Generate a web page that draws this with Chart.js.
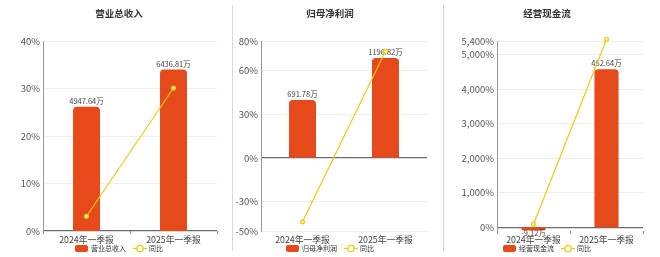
<!DOCTYPE html>
<html>
<head>
<meta charset="utf-8">
<script src="https://cdn.jsdelivr.net/npm/chart.js@4/dist/chart.umd.min.js"></script>
<style>
  html, body { margin: 0; padding: 0; background: #fff; }
  #wrap { position: relative; width: 660px; height: 257px; overflow: hidden; }
  #wrap canvas { position: absolute; top: 0; }
  .sep { position: absolute; top: 5px; width: 1px; height: 246px; background: #d9d9d9; z-index: 2; }
</style>
</head>
<body>
<div id="wrap">
  <canvas id="c1" width="232" height="257" style="left:0px;width:232px;height:257px"></canvas>
  <canvas id="c2" width="210" height="257" style="left:233px;width:210px;height:257px"></canvas>
  <canvas id="c3" width="216" height="257" style="left:444px;width:216px;height:257px"></canvas>
  <div class="sep" style="left:232px"></div>
  <div class="sep" style="left:443px"></div>
</div>
<script>
// Reporting periods
const categories = ['2024年一季报', '2025年一季报'];

// 营业总收入 (万元) and year-on-year change (%)
const revenueValues = [4947.64, 6436.81];
const revenueYoY = [3.1, 30.1];
const revenueTicks = [0, 10, 20, 30, 40];

// 归母净利润 (万元) and year-on-year change (%)
const profitValues = [691.78, 1196.82];
const profitYoY = [-43.7, 73.0];
const profitTicks = [-50, -30, 0, 30, 60, 80];

// 经营现金流 (万元) and year-on-year change (%)
const cashValues = [-9.12, 462.64];
const cashYoY = [90, 5450];
const cashTicks = [0, 1000, 2000, 3000, 4000, 5000, 5400];

const BAR_COLOR = '#e64a1b';
const LINE_COLOR = '#f1c912';
const FONT = "'Noto Sans CJK SC', 'Noto Sans', sans-serif";

// Value labels above (or below, for negatives) each bar
const barLabels = {
  id: 'barLabels',
  afterDatasetDraw(chart, args) {
    if (args.meta.type !== 'bar') return;
    const ctx = chart.ctx;
    const ds = chart.data.datasets[args.index];
    ctx.save();
    ctx.font = '7.5px ' + FONT;
    ctx.fillStyle = '#444';
    ctx.textAlign = 'center';
    args.meta.data.forEach((bar, i) => {
      const v = ds.data[i];
      const txt = v + '万';
      if (v >= 0) {
        ctx.textBaseline = 'bottom';
        ctx.fillText(txt, bar.x, bar.y - 2);
      } else {
        ctx.textBaseline = 'top';
        ctx.fillText(txt, bar.x, bar.y - 1.5);
      }
    });
    ctx.restore();
  }
};

// Title and legend, centred on the panel
const panelDecor = {
  id: 'panelDecor',
  afterDraw(chart) {
    const o = chart.options.plugins.panelDecor;
    const ctx = chart.ctx;
    ctx.save();
    ctx.fillStyle = '#333';
    ctx.font = 'bold 9.5px ' + FONT;
    ctx.textAlign = 'center';
    ctx.textBaseline = 'middle';
    ctx.fillText(o.title, o.center, 13.5);

    // legend
    ctx.font = '7px ' + FONT;
    const name = chart.data.datasets[0].label;
    const yoy = chart.data.datasets[1].label;
    const rectW = 13, lineW = 14;
    const w = rectW + 3 + ctx.measureText(name).width + 7 + lineW + 2 + ctx.measureText(yoy).width;
    let x = o.center - w / 2;
    const y = 248.5;
    ctx.fillStyle = BAR_COLOR;
    ctx.beginPath();
    ctx.roundRect(x, y - 3.5, rectW, 7, 2);
    ctx.fill();
    x += rectW + 3;
    ctx.fillStyle = '#333';
    ctx.textAlign = 'left';
    ctx.fillText(name, x, y);
    x += ctx.measureText(name).width + 7;
    ctx.strokeStyle = LINE_COLOR;
    ctx.lineWidth = 1.3;
    ctx.beginPath();
    ctx.moveTo(x, y); ctx.lineTo(x + lineW, y);
    ctx.stroke();
    ctx.beginPath();
    ctx.arc(x + lineW / 2, y, 3.2, 0, Math.PI * 2);
    ctx.fillStyle = '#fff';
    ctx.fill();
    ctx.stroke();
    x += lineW + 2;
    ctx.fillStyle = '#333';
    ctx.fillText(yoy, x, y);
    ctx.restore();
  }
};

function makePanel(id, p) {
  return new Chart(document.getElementById(id), {
    data: {
      labels: categories,
      datasets: [
        {
          type: 'bar',
          label: p.title,
          data: p.values,
          yAxisID: 'y1',
          backgroundColor: BAR_COLOR,
          borderRadius: 4,
          borderSkipped: 'start',
          categoryPercentage: 1,
          barPercentage: p.barPct,
          order: 2
        },
        {
          type: 'line',
          label: '同比',
          data: p.yoy,
          yAxisID: 'y',
          borderColor: LINE_COLOR,
          borderWidth: 1.2,
          pointRadius: 2,
          pointBorderWidth: 1.2,
          pointBackgroundColor: '#fff3a0',
          pointBorderColor: LINE_COLOR,
          tension: 0,
          clip: false,
          order: 1
        }
      ]
    },
    options: {
      responsive: false,
      animation: false,
      devicePixelRatio: 1,
      layout: { padding: { top: 41, right: p.padRight, bottom: 0, left: 0 } },
      plugins: {
        legend: { display: false },
        tooltip: { enabled: false },
        panelDecor: { title: p.title, center: p.center }
      },
      scales: {
        x: {
          offset: true,
          grid: {
            drawOnChartArea: false,
            drawTicks: true,
            tickLength: 3,
            color: p.xTickColor
          },
          border: { display: false },
          ticks: { color: '#444', padding: 0, font: { family: FONT, size: 8.8 } },
          afterFit(scale) { scale.height = 26; }
        },
        y: {
          position: 'left',
          min: p.min,
          max: p.max,
          afterBuildTicks(scale) { scale.ticks = p.ticks.map(v => ({ value: v })); },
          afterFit(scale) { scale.width = p.yWidth; },
          grid: {
            drawTicks: false,
            color: c => (c.tick && c.tick.value === 0) ? '#6b6b6b' : '#eeeeee',
            lineWidth: c => (c.tick && c.tick.value === 0) ? 1.2 : 1
          },
          border: { display: true, color: '#999' },
          ticks: {
            color: '#555',
            padding: 3,
            font: { family: FONT, size: 9.5 },
            callback: v => v.toLocaleString('en-US') + '%'
          }
        },
        y1: {
          display: false,
          min: p.barMin,
          max: p.barMax
        }
      }
    },
    plugins: [barLabels, panelDecor]
  });
}

makePanel('c1', {
  title: '营业总收入', values: revenueValues, yoy: revenueYoY, ticks: revenueTicks,
  min: 0, max: 40, barMin: 0, barMax: 7570,
  yWidth: 43, padRight: 15, center: 119, barPct: 0.31, xTickColor: '#888'
});
makePanel('c2', {
  title: '归母净利润', values: profitValues, yoy: profitYoY, ticks: profitTicks,
  min: -50, max: 80, barMin: -885.6, barMax: 1401.1,
  yWidth: 28, padRight: 16, center: 97, barPct: 0.325, xTickColor: 'rgba(0,0,0,0)'
});
makePanel('c3', {
  title: '经营现金流', values: cashValues, yoy: cashYoY, ticks: cashTicks,
  min: -107, max: 5400, barMin: -10.8, barMax: 545.3,
  yWidth: 53, padRight: 17, center: 103, barPct: 0.33, xTickColor: '#888'
});
</script>
</body>
</html>
